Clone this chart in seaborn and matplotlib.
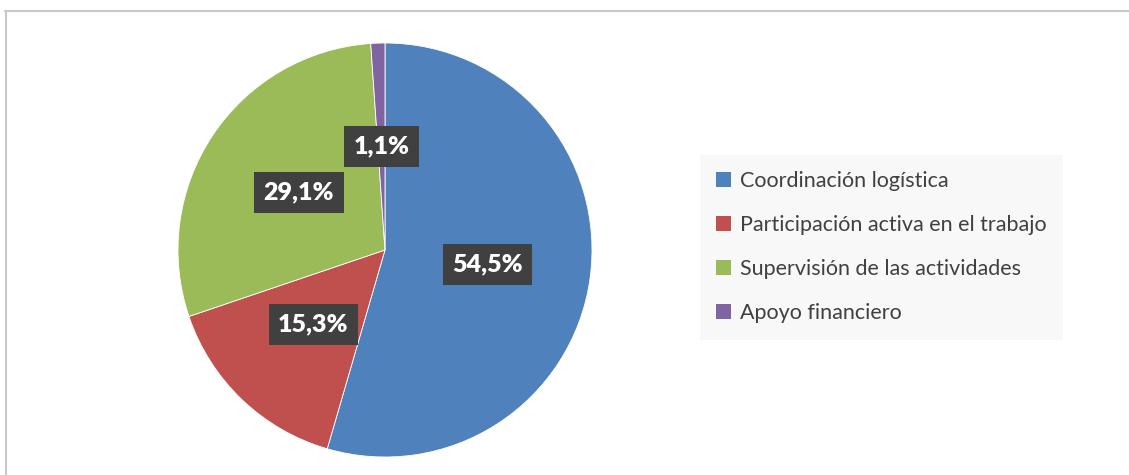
import matplotlib
matplotlib.use("Agg")
import matplotlib.pyplot as plt
import matplotlib.patches as mpatches
from matplotlib.lines import Line2D
import seaborn as sns

categories = ["Coordinación logística", "Participación activa en el trabajo",
              "Supervisión de las actividades", "Apoyo financiero"]
values = [54.5, 15.3, 29.1, 1.1]
pct_labels = ["54,5%", "15,3%", "29,1%", "1,1%"]
colors = ["#4F81BD", "#C0504D", "#9BBB59", "#8064A2"]

sns.set_theme(style="white")
plt.rcParams["font.family"] = ["Lato", "DejaVu Sans"]

W, H = 1129, 475
fig = plt.figure(figsize=(W / 100, H / 100), dpi=100)
fig.patch.set_facecolor("white")

# chart frame (top and left edges visible)
fig.add_artist(Line2D([5 / W, 1], [1 - 11 / H] * 2, color="#c8c8c8", lw=1.5))
fig.add_artist(Line2D([6 / W] * 2, [0, 1 - 11 / H], color="#c8c8c8", lw=1.5))

cx, cy, r = 385, 250, 207
ax = fig.add_axes([(cx - r) / W, (H - cy - r) / H, 2 * r / W, 2 * r / H])
wedges, texts, autotexts = ax.pie(
    values, colors=colors, startangle=90, counterclock=False,
    autopct="%1.1f%%", pctdistance=0.5,
    wedgeprops=dict(linewidth=0.6, edgecolor="white"),
)
for t, lab in zip(autotexts, pct_labels):
    t.set_text(lab)
    t.set_color("white")
    t.set_fontsize(18)
    t.set_fontweight("heavy")
    t.set_bbox(dict(boxstyle="square,pad=0.38", facecolor="#404040",
                    edgecolor="none"))
ax.set_xlim(-1, 1)
ax.set_ylim(-1, 1)
ax.set_aspect("equal")
ax.axis("off")

handles = [mpatches.Patch(facecolor=c, edgecolor="none") for c in colors]
leg = fig.legend(
    handles, categories, loc="upper left",
    bbox_to_anchor=(700 / W, 1 - 155 / H),
    frameon=True, fancybox=False, fontsize=15.5,
    handlelength=0.7, handleheight=0.7, handletextpad=0.4,
    labelspacing=1.12, borderpad=0.75, borderaxespad=0,
    labelcolor="#404040",
)
leg.get_frame().set_facecolor("#f7f7f7")
leg.get_frame().set_edgecolor("none")

fig.savefig("out.png", dpi=100)
